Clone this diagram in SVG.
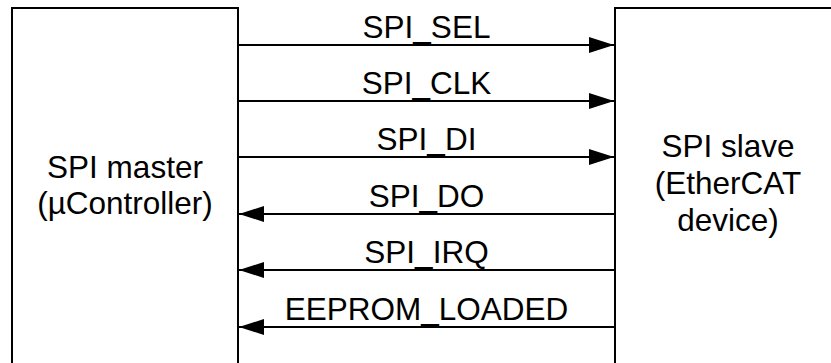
<svg xmlns="http://www.w3.org/2000/svg" width="831" height="363" viewBox="0 0 831 363">
<defs>
<style>
.box{fill:#fff;stroke:#000;stroke-width:2}
.t{font-family:"Liberation Sans",Arial,sans-serif;font-size:31.5px;fill:#000;text-anchor:middle}
.c{stroke:#000;stroke-width:2;fill:none}
</style>
<marker id="ah" viewBox="0 0 25 16" refX="25" refY="8" markerWidth="25" markerHeight="16" markerUnits="userSpaceOnUse" orient="auto">
<path d="M0,0 L25,8 L0,16 Z" fill="#000"/>
</marker>
</defs>
<rect width="831" height="363" fill="#fff"/>
<g id="master">
<rect class="box" x="12" y="8" width="226" height="400"/>
<text class="t" x="125" y="178">SPI master</text>
<text class="t" x="125" y="214">(µController)</text>
</g>
<g id="slave">
<rect class="box" x="615" y="8" width="226" height="400"/>
<text class="t" x="728" y="157">SPI slave</text>
<text class="t" x="728" y="194">(EtherCAT</text>
<text class="t" x="728" y="231">device)</text>
</g>
<g id="connectors">
<line class="c" x1="238" y1="45" x2="614" y2="45" marker-end="url(#ah)"/>
<line class="c" x1="238" y1="101" x2="614" y2="101" marker-end="url(#ah)"/>
<line class="c" x1="238" y1="157" x2="614" y2="157" marker-end="url(#ah)"/>
<line class="c" x1="615" y1="214" x2="239" y2="214" marker-end="url(#ah)"/>
<line class="c" x1="615" y1="270" x2="239" y2="270" marker-end="url(#ah)"/>
<line class="c" x1="615" y1="327" x2="239" y2="327" marker-end="url(#ah)"/>
<text class="t" x="426.5" y="38">SPI_SEL</text>
<text class="t" x="426.5" y="94">SPI_CLK</text>
<text class="t" x="426.5" y="150">SPI_DI</text>
<text class="t" x="426.5" y="207">SPI_DO</text>
<text class="t" x="426.5" y="263">SPI_IRQ</text>
<text class="t" x="426.5" y="320">EEPROM_LOADED</text>
</g>
</svg>
